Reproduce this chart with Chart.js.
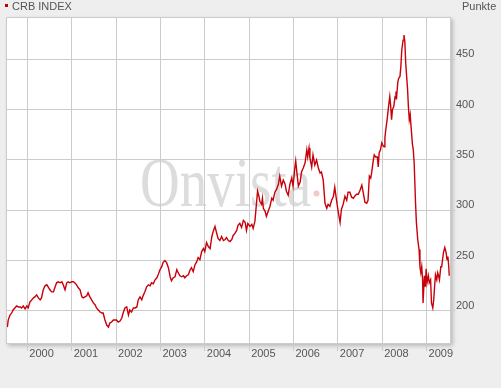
<!DOCTYPE html>
<html>
<head>
<meta charset="utf-8">
<script src="https://cdn.jsdelivr.net/npm/chart.js@4/dist/chart.umd.min.js"></script>
<style>
  html, body { margin: 0; padding: 0; background: #eeeeee; }
  canvas { display: block; }
</style>
</head>
<body>
<canvas id="chart" width="501" height="388"></canvas>
<script>
// CRB index (decimal year, points)
const years = [
  1999.55, 1999.57, 1999.61, 1999.65, 1999.68, 1999.72, 1999.76, 1999.80, 1999.84, 1999.87,
  1999.91, 1999.95, 1999.99, 2000.02, 2000.06, 2000.10, 2000.14, 2000.17, 2000.21, 2000.25,
  2000.29, 2000.32, 2000.36, 2000.40, 2000.44, 2000.47, 2000.51, 2000.55, 2000.59, 2000.62,
  2000.66, 2000.70, 2000.74, 2000.78, 2000.81, 2000.85, 2000.89, 2000.92, 2000.96, 2001.00,
  2001.04, 2001.07, 2001.11, 2001.15, 2001.19, 2001.23, 2001.26, 2001.30, 2001.34, 2001.37,
  2001.41, 2001.45, 2001.49, 2001.53, 2001.56, 2001.60, 2001.64, 2001.68, 2001.71, 2001.75,
  2001.79, 2001.83, 2001.86, 2001.90, 2001.94, 2001.98, 2002.01, 2002.05, 2002.09, 2002.13,
  2002.16, 2002.20, 2002.24, 2002.28, 2002.31, 2002.35, 2002.39, 2002.43, 2002.47, 2002.50,
  2002.54, 2002.58, 2002.61, 2002.65, 2002.69, 2002.73, 2002.77, 2002.80, 2002.84, 2002.88,
  2002.92, 2002.95, 2002.99, 2003.03, 2003.06, 2003.10, 2003.14, 2003.18, 2003.22, 2003.25,
  2003.29, 2003.33, 2003.37, 2003.40, 2003.44, 2003.48, 2003.52, 2003.55, 2003.59, 2003.63,
  2003.67, 2003.70, 2003.74, 2003.78, 2003.82, 2003.85, 2003.89, 2003.93, 2003.97, 2004.00,
  2004.04, 2004.08, 2004.12, 2004.16, 2004.19, 2004.23, 2004.27, 2004.30, 2004.34, 2004.38,
  2004.42, 2004.46, 2004.49, 2004.53, 2004.57, 2004.61, 2004.64, 2004.68, 2004.72, 2004.75,
  2004.79, 2004.83, 2004.87, 2004.91, 2004.94, 2004.97, 2005.02, 2005.06, 2005.09, 2005.13,
  2005.17, 2005.19, 2005.22, 2005.24, 2005.28, 2005.30, 2005.32, 2005.36, 2005.39, 2005.43,
  2005.47, 2005.51, 2005.54, 2005.58, 2005.62, 2005.66, 2005.69, 2005.73, 2005.77, 2005.81,
  2005.84, 2005.88, 2005.92, 2005.96, 2005.99, 2006.03, 2006.05, 2006.08, 2006.11, 2006.15,
  2006.18, 2006.22, 2006.26, 2006.30, 2006.32, 2006.35, 2006.37, 2006.41, 2006.44, 2006.48,
  2006.52, 2006.56, 2006.60, 2006.63, 2006.67, 2006.71, 2006.75, 2006.78, 2006.82, 2006.86,
  2006.90, 2006.93, 2006.97, 2007.01, 2007.05, 2007.08, 2007.12, 2007.16, 2007.20, 2007.23,
  2007.27, 2007.31, 2007.35, 2007.38, 2007.42, 2007.46, 2007.50, 2007.54, 2007.57, 2007.61,
  2007.65, 2007.68, 2007.71, 2007.74, 2007.76, 2007.80, 2007.82, 2007.85, 2007.89, 2007.91,
  2007.93, 2007.96, 2007.99, 2008.01, 2008.04, 2008.06, 2008.08, 2008.11, 2008.15, 2008.17,
  2008.19, 2008.21, 2008.23, 2008.26, 2008.29, 2008.31, 2008.32, 2008.35, 2008.37, 2008.40,
  2008.42, 2008.44, 2008.47, 2008.49, 2008.51, 2008.53, 2008.55, 2008.57, 2008.59, 2008.61,
  2008.63, 2008.65, 2008.68, 2008.70, 2008.72, 2008.75, 2008.77, 2008.80, 2008.83, 2008.85,
  2008.87, 2008.89, 2008.91, 2008.92, 2008.95, 2008.97, 2008.99, 2009.01, 2009.04, 2009.06,
  2009.09, 2009.11, 2009.14, 2009.16, 2009.18, 2009.20, 2009.23, 2009.25, 2009.27, 2009.29,
  2009.32, 2009.34, 2009.36, 2009.38, 2009.41, 2009.44, 2009.46, 2009.48, 2009.50, 2009.51
]
const crbIndex = [
  184, 191, 196, 198, 201, 203, 205, 204, 204, 203,
  205, 202, 205, 203, 209, 211, 213, 214, 216, 213,
  211, 213, 221, 225, 226, 224, 221, 219, 219, 223,
  228, 229, 228, 229, 226, 221, 228, 229, 228, 229,
  229, 228, 226, 223, 221, 214, 213, 214, 215, 218,
  214, 211, 208, 206, 203, 201, 199, 198, 198, 191,
  186, 184, 188, 189, 191, 191, 191, 189, 190, 193,
  198, 203, 204, 196, 201, 199, 203, 203, 204, 211,
  214, 211, 215, 219, 224, 226, 225, 228, 227, 231,
  233, 236, 241, 244, 248, 250, 248, 243, 234, 230,
  233, 234, 241, 238, 235, 234, 235, 233, 235, 236,
  241, 243, 239, 246, 249, 253, 251, 259, 262, 259,
  268, 264, 262, 274, 279, 284, 277, 272, 270, 274,
  270, 271, 273, 270, 269, 271, 275, 277, 280, 285,
  287, 283, 290, 288, 280, 287, 284, 286, 282, 289,
  309, 319, 314, 309, 306, 312, 302, 299, 294, 299,
  304, 312, 310, 318, 321, 326, 334, 324, 330, 326,
  319, 315, 326, 332, 324, 342, 349, 336, 324, 328,
  338, 342, 347, 360, 353, 362, 352, 343, 355, 345,
  350, 342, 337, 338, 330, 307, 302, 306, 304, 310,
  314, 323, 310, 298, 288, 301, 306, 314, 310, 318,
  318, 313, 312, 314, 316, 316, 320, 325, 318, 308,
  307, 310, 334, 332, 337, 350, 355, 353, 353, 343,
  357, 360, 367, 365, 363, 372, 380, 390, 406, 413,
  404, 390, 400, 403, 413, 418, 410, 427, 431, 433,
  443, 459, 469, 474, 467, 446, 433, 421, 403, 390,
  395, 383, 366, 360, 347, 308, 288, 271, 261, 244,
  238, 244, 231, 208, 235, 224, 242, 228, 235, 228,
  231, 208, 203, 211, 224, 236, 231, 238, 235, 231,
  244, 244, 251, 258, 263, 258, 251, 254, 244, 235
]
const yearTicks = [2000, 2001, 2002, 2003, 2004, 2005, 2006, 2007, 2008, 2009]
const pointTicks = [200, 250, 300, 350, 400, 450]

const frame = {
  id: 'frame',
  beforeDraw(chart) {
    const { ctx, chartArea: a } = chart
    ctx.save()
    ctx.fillStyle = '#eeeeee'
    ctx.fillRect(0, 0, chart.width, chart.height)
    ctx.shadowColor = 'rgba(0,0,0,0.22)'
    ctx.shadowBlur = 4
    ctx.shadowOffsetX = 2
    ctx.shadowOffsetY = 2
    ctx.fillStyle = '#ffffff'
    ctx.fillRect(a.left, a.top, a.right - a.left, a.bottom - a.top)
    ctx.restore()

    // watermark
    ctx.save()
    ctx.fillStyle = '#dcdcdc'
    ctx.font = '55px "Liberation Serif", "DejaVu Serif", serif'
    ctx.textBaseline = 'alphabetic'
    ctx.translate(140, 206)
    ctx.scale(1, 1.28)
    ctx.fillText('Onvista', 0, 0)
    ctx.restore()
    ctx.save()
    ctx.fillStyle = '#f4c8c8'
    ctx.beginPath()
    ctx.arc(316.5, 193.5, 3, 0, Math.PI * 2)
    ctx.fill()
    ctx.restore()
  },
  afterDraw(chart) {
    const { ctx, chartArea: a } = chart
    ctx.save()
    ctx.strokeStyle = '#cccccc'
    ctx.lineWidth = 1
    ctx.strokeRect(a.left + 0.5, a.top + 0.5, a.right - a.left - 1, a.bottom - a.top - 1)
    ctx.fillStyle = '#c00000'
    ctx.fillRect(5, 4, 3, 3)
    ctx.fillStyle = '#555555'
    ctx.font = '11px "Liberation Sans", Arial, sans-serif'
    ctx.textBaseline = 'alphabetic'
    ctx.fillText('CRB INDEX', 12, 10)
    ctx.fillText('Punkte', 462, 10)
    ctx.restore()
  }
}

new Chart(document.getElementById('chart'), {
  type: 'line',
  data: {
    datasets: [{
      label: 'CRB INDEX',
      data: years.map((x, i) => ({ x: x, y: crbIndex[i] })),
      borderColor: '#c8000a',
      borderWidth: 1.4,
      pointRadius: 0,
      tension: 0,
      fill: false
    }]
  },
  options: {
    responsive: false,
    devicePixelRatio: 1,
    animation: false,
    layout: { padding: { left: 6, top: 17, right: 0, bottom: 0 } },
    plugins: {
      legend: { display: false },
      tooltip: { enabled: false }
    },
    scales: {
      x: {
        type: 'linear',
        position: 'bottom',
        min: 1999.52,
        max: 2009.55,
        afterBuildTicks: (s) => { s.ticks = yearTicks.map(v => ({ value: v })) },
        afterFit: (s) => { s.height = 44 },
        border: { display: false },
        grid: { color: '#cccccc', lineWidth: 1, tickLength: 7 },
        ticks: {
          align: 'start',
          labelOffset: 2,
          padding: -4,
          maxRotation: 0,
          autoSkip: false,
          color: '#555555',
          font: { family: '"Liberation Sans", Arial, sans-serif', size: 11 },
          callback: (v) => String(v)
        }
      },
      y: {
        position: 'right',
        min: 167.2,
        max: 492,
        afterBuildTicks: (s) => { s.ticks = pointTicks.map(v => ({ value: v })) },
        afterFit: (s) => { s.width = 50 },
        border: { display: false },
        grid: { color: '#cccccc', lineWidth: 1, tickLength: 4 },
        ticks: {
          padding: 1,
          labelOffset: -5,
          autoSkip: false,
          color: '#555555',
          font: { family: '"Liberation Sans", Arial, sans-serif', size: 11 },
          callback: (v) => String(v)
        }
      }
    }
  },
  plugins: [frame]
})
</script>
</body>
</html>
